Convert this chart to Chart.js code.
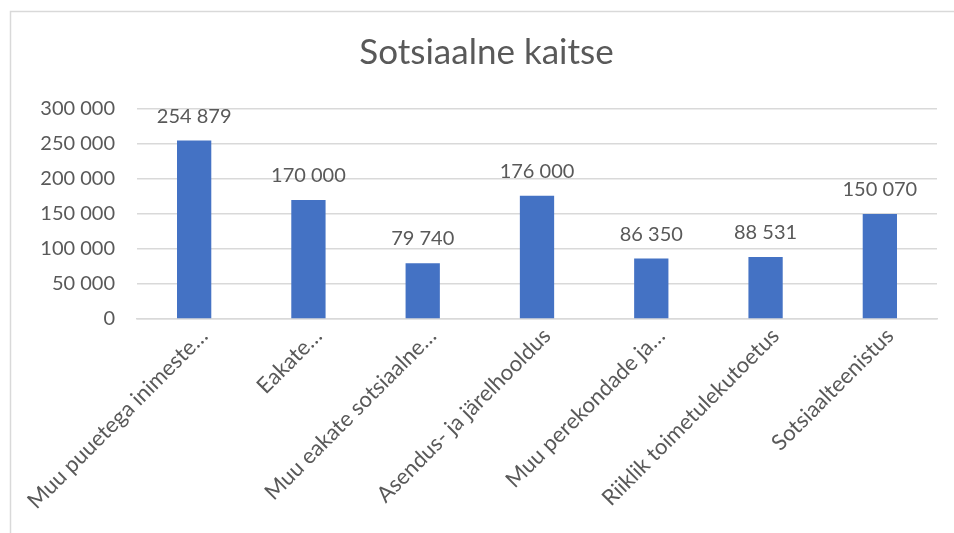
<!DOCTYPE html>
<html>
<head>
<meta charset="utf-8">
<script src="https://cdn.jsdelivr.net/npm/chart.js@4"></script>
<style>
html,body{margin:0;padding:0;background:#fff;}
#wrap{width:954px;height:533px;position:relative;}
</style>
</head>
<body>
<div id="wrap"><canvas id="c" width="954" height="533"></canvas></div>
<script>
const titleText = "Sotsiaalne kaitse";
const categories = [
  "Muu puuetega inimeste…",
  "Eakate…",
  "Muu eakate sotsiaalne…",
  "Asendus- ja järelhooldus",
  "Muu perekondade ja…",
  "Riiklik toimetulekutoetus",
  "Sotsiaalteenistus"
];
const values = [254879, 170000, 79740, 176000, 86350, 88531, 150070];
const yTicks = [0, 50000, 100000, 150000, 200000, 250000, 300000];

const FONT = "Lato";
const GREY = "#595959";

function fmt(v){
  return String(Math.round(v)).replace(/\B(?=(\d{3})+(?!\d))/g, " ");
}

const framePlugin = {
  id: 'frame',
  beforeDraw(chart){
    const ctx = chart.ctx;
    ctx.save();
    ctx.fillStyle = '#fff';
    ctx.fillRect(0,0,chart.width,chart.height);
    ctx.strokeStyle = '#d9d9d9';
    ctx.lineWidth = 1.5;
    ctx.beginPath();
    ctx.moveTo(10.5, chart.height);
    ctx.lineTo(10.5, 11.5);
    ctx.lineTo(chart.width, 11.5);
    ctx.stroke();
    ctx.restore();
  }
};

const labelPlugin = {
  id: 'valueLabels',
  afterDatasetsDraw(chart){
    const ctx = chart.ctx;
    const meta = chart.getDatasetMeta(0);
    ctx.save();
    ctx.font = "20px " + FONT;
    ctx.fillStyle = GREY;
    ctx.textAlign = 'center';
    ctx.textBaseline = 'alphabetic';
    meta.data.forEach((bar, i) => {
      ctx.fillText(fmt(values[i]), bar.x, bar.y - 18);
    });
    ctx.restore();
  }
};

new Chart(document.getElementById('c'), {
  type: 'bar',
  data: {
    labels: categories,
    datasets: [{
      data: values,
      backgroundColor: '#4472C4',
      borderWidth: 0,
      barPercentage: 0.3,
      categoryPercentage: 1.0
    }]
  },
  options: {
    responsive: false,
    animation: false,
    devicePixelRatio: 1,
    layout: { padding: { top: 0, right: 17, bottom: 0, left: 36 } },
    plugins: {
      legend: { display: false },
      tooltip: { enabled: false },
      title: {
        display: true,
        text: titleText,
        color: GREY,
        font: { family: FONT, size: 35, weight: 'normal', lineHeight: 1.2 },
        padding: { top: 32, bottom: 35 }
      }
    },
    scales: {
      x: {
        offset: true,
        grid: { display: false, drawTicks: false },
        border: { display: true, color: '#d9d9d9', width: 1.5 },
        ticks: {
          color: GREY,
          font: { family: FONT, size: 22 },
          minRotation: 45,
          maxRotation: 45,
          padding: 4,
          labelOffset: 10,
          autoSkip: false
        },
        afterFit(scale){ scale.height = 533 - 319; }
      },
      y: {
        min: 0,
        max: 300000,
        afterBuildTicks(scale){ scale.ticks = yTicks.map(v => ({value: v})); },
        grid: { color: '#d9d9d9', lineWidth: 1.5, drawTicks: false },
        border: { display: false },
        ticks: {
          color: GREY,
          font: { family: FONT, size: 20 },
          padding: 22,
          callback: (v) => fmt(v)
        },
        afterFit(scale){ scale.width = 101; }
      }
    }
  },
  plugins: [framePlugin, labelPlugin]
});
</script>
</body>
</html>
